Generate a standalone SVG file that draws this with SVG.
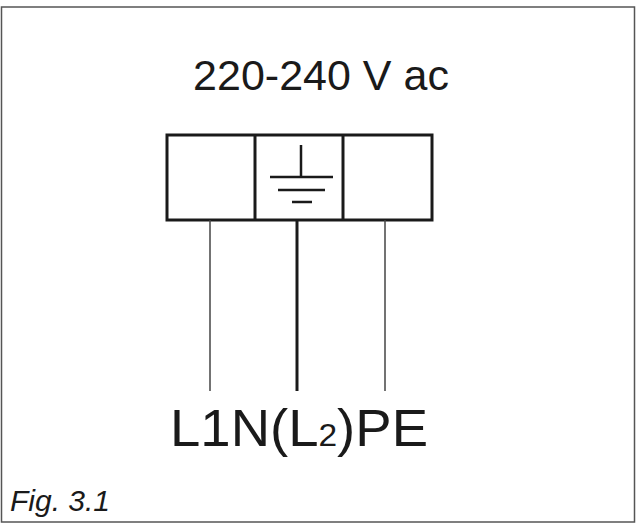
<svg xmlns="http://www.w3.org/2000/svg" width="637" height="525" viewBox="0 0 637 525">
<style>
text{font-family:"Liberation Sans",Arial,sans-serif;fill:#1a1a1a}
.w{stroke:#444;stroke-width:1.5}
.b{fill:none;stroke:#1a1a1a;stroke-width:3}
</style>
<rect x="0" y="0" width="637" height="525" fill="#fff"/>
<rect x="1.5" y="7" width="633" height="515" fill="none" stroke="#555" stroke-width="1.5"/>
<text x="321" y="90" font-size="43" text-anchor="middle">220-240 V ac</text>
<g id="terminal">
<rect x="167" y="135" width="265" height="85" class="b"/>
<line x1="255" y1="135" x2="255" y2="220" class="b"/>
<line x1="343" y1="135" x2="343" y2="220" class="b"/>
<g id="earth" stroke="#1a1a1a" stroke-width="2.5">
<line x1="301" y1="145" x2="301" y2="177"/>
<line x1="270" y1="177" x2="333" y2="177"/>
<line x1="278" y1="190" x2="325" y2="190"/>
<line x1="292" y1="202" x2="312" y2="202"/>
</g>
</g>
<g id="connectors">
<line x1="210" y1="220" x2="210" y2="391" class="w"/>
<line x1="297" y1="220" x2="297" y2="391" stroke="#1a1a1a" stroke-width="3"/>
<line x1="385" y1="220" x2="385" y2="391" class="w"/>
</g>
<text x="170" y="446" font-size="52" textLength="258" lengthAdjust="spacingAndGlyphs">L1N(L<tspan font-size="32">2</tspan>)PE</text>
<text x="10" y="511" font-size="30" font-style="italic">Fig. 3.1</text>
</svg>
